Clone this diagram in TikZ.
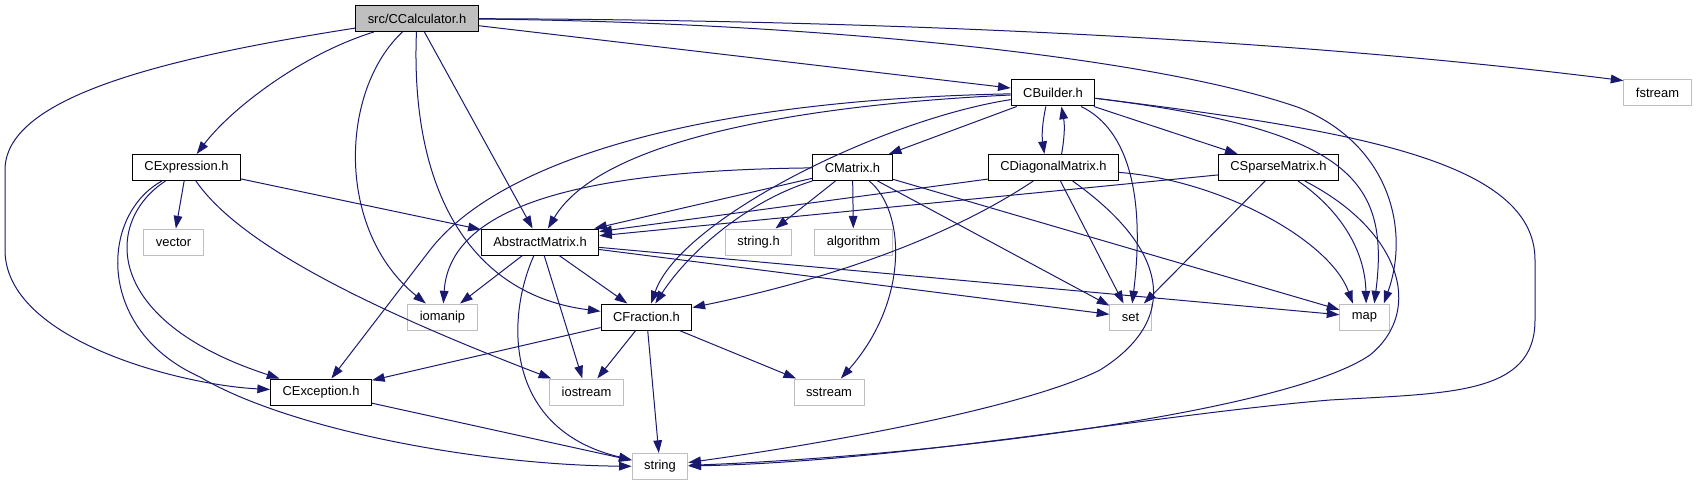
\documentclass[tikz,border=0pt]{standalone}
\usepackage{fontspec}
\setmainfont{Liberation Sans}
\usepackage{xcolor}
\usepackage{tikz}
\usetikzlibrary{arrows.meta}
\definecolor{edgeblue}{HTML}{191970}
\definecolor{boxgray}{HTML}{BFBFBF}

\begin{document}
\begin{tikzpicture}[
    x=0.75pt, y=-0.75pt,
    every node/.style={font=\fontsize{9.7}{11}\selectfont},
    hdr/.style    ={draw=black, line width=0.75pt, fill=white, inner xsep=9pt, inner ysep=0pt, minimum height=19.5pt},
    syshdr/.style ={hdr, draw=boxgray},
    roothdr/.style={hdr, fill=boxgray},
    inc/.style    ={-{Triangle[length=9.5pt, width=6.5pt]}, color=edgeblue, line width=0.75pt}
]
\useasboundingbox (0,0) rectangle (1696,485);

% Root
\node[roothdr] (calc) at (417,18.5) {src/CCalculator.h};

% Row 2
\node[hdr]    (builder) at (1053,93)   {CBuilder.h};
\node[syshdr] (fstream) at (1657.5,93) {fstream};

% Row 3
\node[hdr] (expr)    at (186.5,167.5)  {CExpression.h};
\node[hdr] (cmatrix) at (852.5,167.5)  {CMatrix.h};
\node[hdr] (diag)    at (1053.5,167.5) {CDiagonalMatrix.h};
\node[hdr] (sparse)  at (1278.5,167.5) {CSparseMatrix.h};

% Row 4
\node[syshdr] (vector)  at (173.5,242) {vector};
\node[hdr]    (absm)    at (540,242)   {AbstractMatrix.h};
\node[syshdr] (stringh) at (758.5,242) {string.h};
\node[syshdr] (algo)    at (853.5,242) {algorithm};

% Row 5
\node[syshdr] (iomanip)  at (442.5,317)  {iomanip};
\node[hdr]    (fraction) at (646.5,317)  {CFraction.h};
\node[syshdr] (set)      at (1130.5,317) {set};
\node[syshdr] (map)      at (1364.5,317) {map};

% Row 6
\node[hdr]    (exc)      at (321,392)   {CException.h};
\node[syshdr] (iostream) at (586.5,392) {iostream};
\node[syshdr] (sstream)  at (829,392)   {sstream};

% Row 7
\node[syshdr] (string) at (660,466.5) {string};

% CCalculator.h
\draw[inc] (calc) .. controls (150,60) and (5,100) .. (5,170) -- (5,250) .. controls (5,340) and (180,385) .. (exc);
\draw[inc] (calc) .. controls (300,55) and (230,110) .. (expr);
\draw[inc] (calc) .. controls (340,90) and (335,230) .. (iomanip);
\draw[inc] (calc) .. controls (410,190) and (470,295) .. (fraction);
\draw[inc] (calc) -- (absm);
\draw[inc] (calc) -- (builder);
\draw[inc] (calc) .. controls (800,22) and (1150,55) .. (1300,108) .. controls (1390,145) and (1410,230) .. (map.35);
\draw[inc] (calc) .. controls (900,20) and (1300,40) .. (fstream.160);

% CBuilder.h
\draw[inc] (builder) -- (cmatrix);
\draw[inc] (builder.-118) to[bend right=10] (diag.124);
\draw[inc] (builder) -- (sparse);
\draw[inc] (builder) .. controls (800,105) and (600,140) .. (absm);
\draw[inc] (builder) .. controls (700,100) and (500,160) .. (430,250) -- (exc);
\draw[inc] (builder) .. controls (880,120) and (680,220) .. (fraction);
\draw[inc] (builder) .. controls (1130,130) and (1145,200) .. (set);
\draw[inc] (builder) .. controls (1350,130) and (1390,180) .. (map.54);
\draw[inc] (builder) .. controls (1350,130) and (1535,160) .. (1535,260) -- (1535,320)
    .. controls (1535,395) and (1450,393) .. (1330,400) .. controls (1150,415) and (900,462) .. (string);

% CDiagonalMatrix.h
\draw[inc] (diag.59) to[bend right=10] (builder.-58);
\draw[inc] (diag.190) -- (absm.10);
\draw[inc] (diag) .. controls (960,230) and (850,275) .. (fraction);
\draw[inc] (diag) -- (set);
\draw[inc] (diag) .. controls (1170,250) and (1180,320) .. (1100,370) .. controls (1030,405) and (850,440) .. (string);
\draw[inc] (diag) .. controls (1220,180) and (1330,240) .. (map.131);

% CSparseMatrix.h
\draw[inc] (sparse.187) -- (absm.6);
\draw[inc] (sparse) -- (set);
\draw[inc] (sparse) .. controls (1340,210) and (1365,250) .. (map.83);
\draw[inc] (sparse) .. controls (1400,230) and (1425,310) .. (1370,355) .. controls (1290,410) and (950,455) .. (string);

% CMatrix.h
\draw[inc] (cmatrix.195) -- (absm.14);
\draw[inc] (cmatrix) .. controls (600,170) and (450,200) .. (iomanip);
\draw[inc] (cmatrix.south west) .. controls (750,200) and (690,250) .. (fraction);
\draw[inc] (cmatrix) -- (stringh);
\draw[inc] (cmatrix) -- (algo);
\draw[inc] (cmatrix) .. controls (905,210) and (910,300) .. (sstream);
\draw[inc] (cmatrix) -- (set);
\draw[inc] (cmatrix) -- (map);

% CExpression.h
\draw[inc] (expr) -- (vector);
\draw[inc] (expr) -- (absm);
\draw[inc] (expr) .. controls (105,220) and (100,320) .. (exc.162);
\draw[inc] (expr) .. controls (100,215) and (95,330) .. (200,377) .. controls (290,430) and (480,465) .. (string);
\draw[inc] (expr) .. controls (230,230) and (320,290) .. (iostream);

% AbstractMatrix.h
\draw[inc] (absm) -- (iomanip);
\draw[inc] (absm) -- (fraction);
\draw[inc] (absm) -- (iostream);
\draw[inc] (absm) .. controls (505,320) and (505,430) .. (string);
\draw[inc] (absm) -- (set);
\draw[inc] (absm) -- (map);

% CFraction.h
\draw[inc] (fraction) -- (exc);
\draw[inc] (fraction) -- (iostream);
\draw[inc] (fraction) -- (string);
\draw[inc] (fraction) -- (sstream);

% CException.h
\draw[inc] (exc) -- (string);
\end{tikzpicture}
\end{document}
